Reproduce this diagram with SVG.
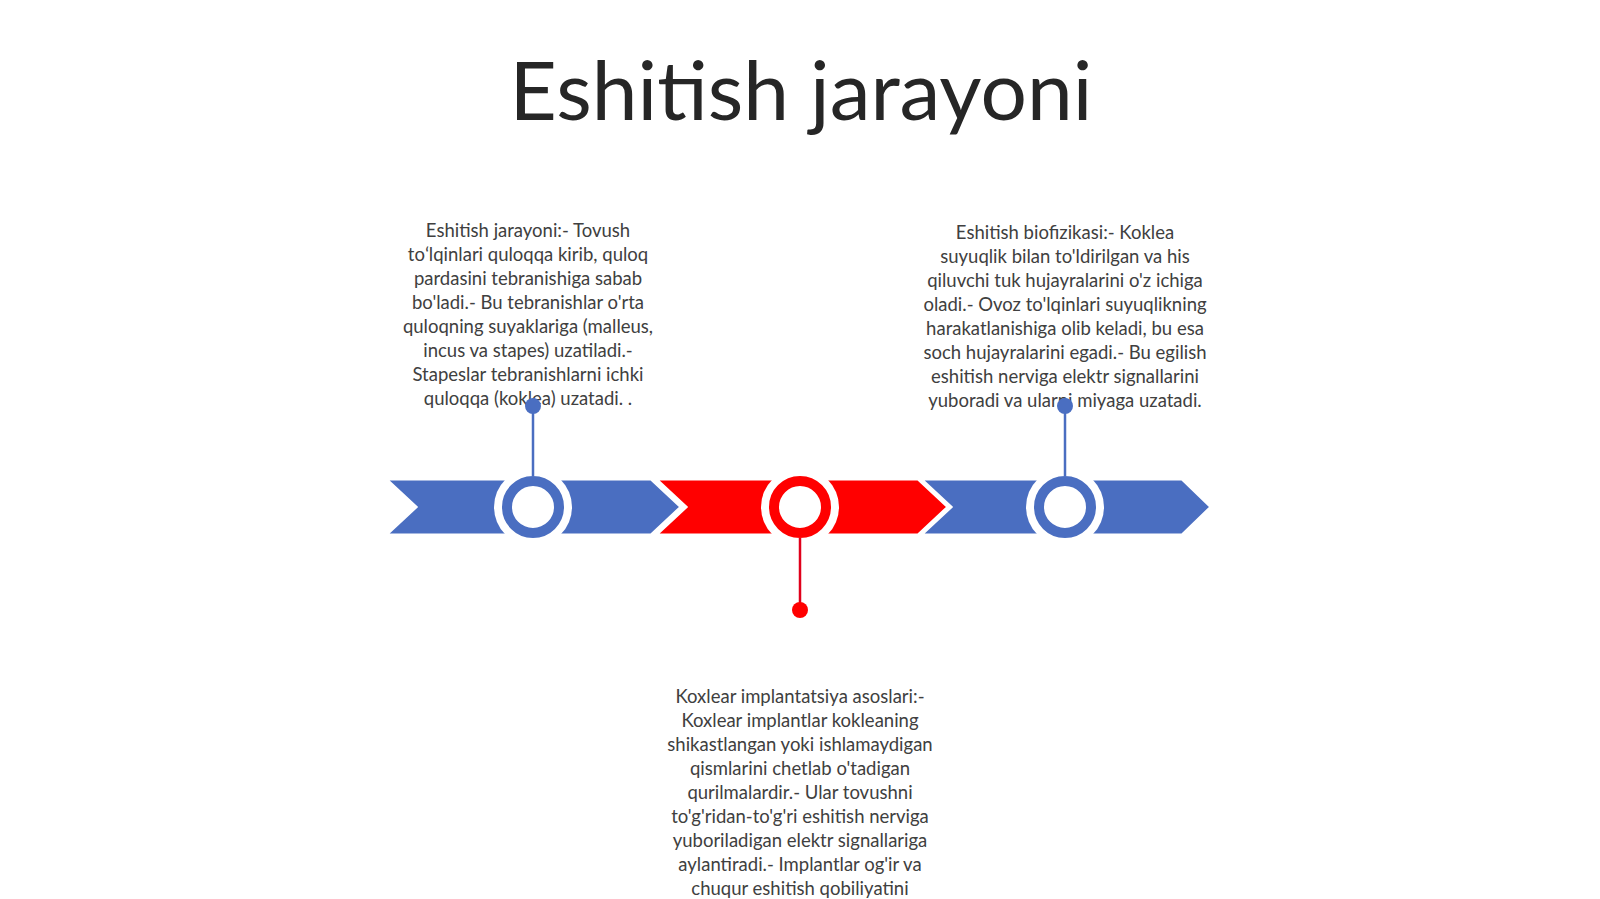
<svg xmlns="http://www.w3.org/2000/svg" width="1600" height="899" viewBox="0 0 1600 899">
<defs>
<style>
.title{font-family:Lato,"Liberation Sans",sans-serif;font-size:82px;fill:#262626;text-anchor:middle}
.body{font-family:Lato,"Liberation Sans",sans-serif;font-size:18.5px;fill:#404040;text-anchor:middle}
.blue{fill:#4A6EC1}
.red{fill:#FF0000}
.seg{stroke:#ffffff;stroke-width:3;stroke-linejoin:miter}
.gap{fill:#ffffff}
.ringb{fill:#ffffff;stroke:#4A6EC1;stroke-width:10}
.ringr{fill:#ffffff;stroke:#FF0000;stroke-width:10}
.lb{stroke:#4A6EC1;stroke-width:2.5}
.lr{stroke:#E0001B;stroke-width:2.5}
</style>
</defs>
<rect width="1600" height="899" fill="#ffffff"/>
<g id="title"><text class="title" x="801" y="120">Eshitish jarayoni</text></g>
<g id="band">
<polygon class="seg blue" points="386,479 651,479 681,507 651,535 386,535 416,507"/>
<polygon class="seg red" points="656,479 918,479 948,507 918,535 656,535 686,507"/>
<polygon class="seg blue" points="921,479 1182,479 1211,507 1182,535 921,535 951,507"/>
</g>
<g id="node1">
<circle class="gap" cx="533" cy="507" r="39"/>
<circle class="ringb" cx="533" cy="507" r="26"/>
<text class="body" x="528" y="237">Eshitish jarayoni:- Tovush</text>
<text class="body" x="528" y="261">toʻlqinlari quloqqa kirib, quloq</text>
<text class="body" x="528" y="285">pardasini tebranishiga sabab</text>
<text class="body" x="528" y="309">bo'ladi.- Bu tebranishlar o'rta</text>
<text class="body" x="528" y="333">quloqning suyaklariga (malleus,</text>
<text class="body" x="528" y="357">incus va stapes) uzatiladi.-</text>
<text class="body" x="528" y="381">Stapeslar tebranishlarni ichki</text>
<text class="body" x="528" y="405">quloqqa (koklea) uzatadi. .</text>
</g>
<g id="node2">
<circle class="gap" cx="800" cy="507" r="39"/>
<circle class="ringr" cx="800" cy="507" r="26"/>
<text class="body" x="800" y="703">Koxlear implantatsiya asoslari:-</text>
<text class="body" x="800" y="727">Koxlear implantlar kokleaning</text>
<text class="body" x="800" y="751">shikastlangan yoki ishlamaydigan</text>
<text class="body" x="800" y="775">qismlarini chetlab o'tadigan</text>
<text class="body" x="800" y="799">qurilmalardir.- Ular tovushni</text>
<text class="body" x="800" y="823">to'g'ridan-to'g'ri eshitish nerviga</text>
<text class="body" x="800" y="847">yuboriladigan elektr signallariga</text>
<text class="body" x="800" y="871">aylantiradi.- Implantlar og'ir va</text>
<text class="body" x="800" y="895">chuqur eshitish qobiliyatini</text>
</g>
<g id="node3">
<circle class="gap" cx="1065" cy="507" r="39"/>
<circle class="ringb" cx="1065" cy="507" r="26"/>
<text class="body" x="1065" y="239">Eshitish biofizikasi:- Koklea</text>
<text class="body" x="1065" y="263">suyuqlik bilan to'ldirilgan va his</text>
<text class="body" x="1065" y="287">qiluvchi tuk hujayralarini o'z ichiga</text>
<text class="body" x="1065" y="311">oladi.- Ovoz to'lqinlari suyuqlikning</text>
<text class="body" x="1065" y="335">harakatlanishiga olib keladi, bu esa</text>
<text class="body" x="1065" y="359">soch hujayralarini egadi.- Bu egilish</text>
<text class="body" x="1065" y="383">eshitish nerviga elektr signallarini</text>
<text class="body" x="1065" y="407">yuboradi va ularni miyaga uzatadi.</text>
</g>
<g id="connectors">
<line class="lb" x1="533" y1="476" x2="533" y2="407"/>
<circle class="blue" cx="533" cy="406" r="8"/>
<line class="lr" x1="800" y1="538" x2="800" y2="610"/>
<circle class="red" cx="800" cy="610" r="8"/>
<line class="lb" x1="1065" y1="476" x2="1065" y2="407"/>
<circle class="blue" cx="1065" cy="406" r="8"/>
</g>
</svg>
